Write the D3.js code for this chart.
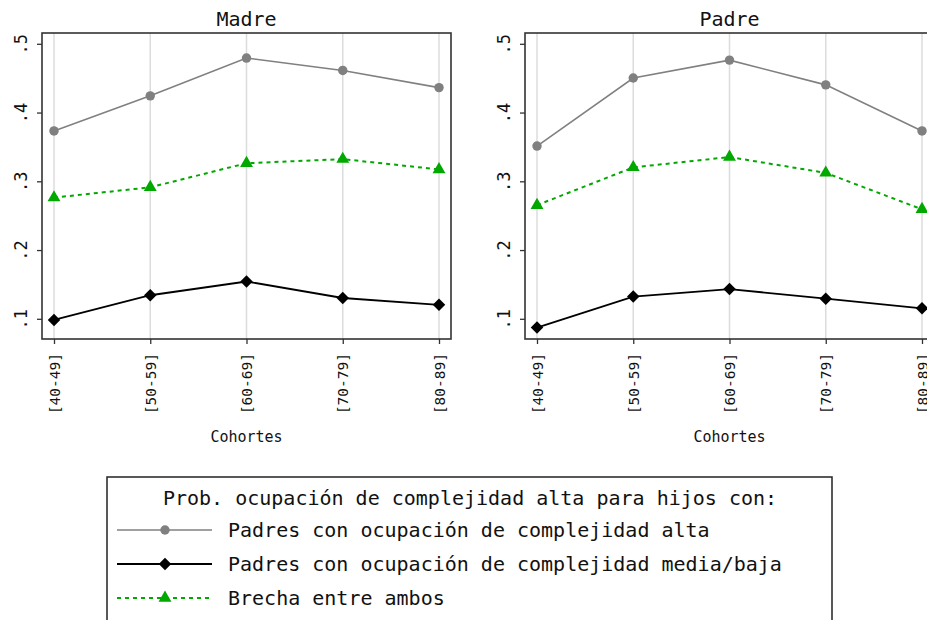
<!DOCTYPE html>
<html>
<head>
<meta charset="utf-8">
<title>Prob. ocupación de complejidad alta</title>
<script src="https://cdn.jsdelivr.net/npm/d3@7"></script>
<style>
  body { margin: 0; background: #fff; }
  text { font-family: "DejaVu Sans Mono", "Liberation Mono", monospace; fill: #111; }
  .frame { fill: none; stroke: #333; stroke-width: 1.6; }
  .grid line { stroke: #dcdcdc; stroke-width: 1.5; }
  .axis path { display: none; }
  .axis line { stroke: #333; stroke-width: 1.3; }
</style>
</head>
<body>
<svg id="chart" width="927" height="620"></svg>
<script>
  // data
  var cohorts = ["[40-49]", "[50-59]", "[60-69]", "[70-79]", "[80-89]"];
  var yTicks = [0.1, 0.2, 0.3, 0.4, 0.5];

  var madreAlta  = [0.374, 0.425, 0.480, 0.462, 0.437];
  var madreBaja  = [0.099, 0.135, 0.155, 0.131, 0.121];
  var madreGap   = [0.277, 0.292, 0.327, 0.333, 0.318];

  var padreAlta  = [0.352, 0.451, 0.477, 0.441, 0.374];
  var padreBaja  = [0.088, 0.133, 0.144, 0.130, 0.116];
  var padreGap   = [0.266, 0.321, 0.336, 0.313, 0.260];

  var legendTitle = "Prob. ocupación de complejidad alta para hijos con:";
  var seriesNames = [
    "Padres con ocupación de complejidad alta",
    "Padres con ocupación de complejidad media/baja",
    "Brecha entre ambos"
  ];

  // diamond = square turned 45 degrees
  var styles = [
    {color: "#808080", width: 1.6, dash: null, marker: d3.symbolCircle, size: 70, rot: 0},
    {color: "#000000", width: 1.8, dash: null, marker: d3.symbolSquare, size: 78, rot: 45},
    {color: "#00a800", width: 2, dash: "4,4", marker: d3.symbolTriangle, size: 72, rot: 0}
  ];

  var panels = [
    {title: "Madre", left: 42, series: [madreAlta, madreBaja, madreGap]},
    {title: "Padre", left: 525, series: [padreAlta, padreBaja, padreGap]}
  ];

  var svg = d3.select("#chart");
  var plotTop = 33, plotBottom = 339, plotW = 409;

  var y = d3.scaleLinear().domain([0.1, 0.5]).range([319.3, 44.3]);

  panels.forEach(function(p) {
    var x = d3.scalePoint().domain(cohorts).range([12, plotW - 12]);
    var g = svg.append("g").attr("transform", "translate(" + p.left + ",0)");

    // vertical grid
    g.append("g").attr("class", "grid")
      .selectAll("line").data(cohorts).enter().append("line")
        .attr("x1", function(d) { return x(d); })
        .attr("x2", function(d) { return x(d); })
        .attr("y1", plotTop).attr("y2", plotBottom);

    // y axis, labels turned
    var ya = g.append("g").attr("class", "axis")
      .call(d3.axisLeft(y).tickValues(yTicks).tickSize(5).tickPadding(0)
        .tickFormat(function(d) { return String(d).replace(/^0/, ""); }));
    ya.selectAll(".tick").attr("transform", null);
    ya.selectAll(".tick line")
      .attr("y1", function(d) { return y(d); })
      .attr("y2", function(d) { return y(d); });
    ya.selectAll("text")
      .attr("x", 0).attr("y", 0).attr("dy", null)
      .attr("text-anchor", "middle")
      .style("font-size", "17px")
      .attr("transform", function(d) { return "translate(-15," + y(d) + ") rotate(-90)"; });

    // x axis
    var xa = g.append("g").attr("class", "axis")
      .attr("transform", "translate(0," + plotBottom + ")")
      .call(d3.axisBottom(x).tickSize(5).tickPadding(0));
    xa.selectAll("text")
      .attr("y", 0).attr("dy", null)
      .attr("text-anchor", "end")
      .style("font-size", "14.5px")
      .attr("transform", "translate(5,14) rotate(-90)");

    // frame
    g.append("rect").attr("class", "frame")
      .attr("x", 0).attr("y", plotTop).attr("width", plotW).attr("height", plotBottom - plotTop);

    // titles
    g.append("text").attr("x", plotW / 2).attr("y", 26)
      .attr("text-anchor", "middle").style("font-size", "20px").text(p.title);
    g.append("text").attr("x", x(cohorts[2])).attr("y", 442)
      .attr("text-anchor", "middle").style("font-size", "15px").text("Cohortes");

    // series
    var line = d3.line()
      .x(function(d, i) { return x(cohorts[i]); })
      .y(function(d) { return y(d); });
    p.series.forEach(function(vals, k) {
      var s = styles[k];
      g.append("path").datum(vals)
        .attr("d", line)
        .attr("fill", "none")
        .attr("stroke", s.color)
        .attr("stroke-width", s.width)
        .attr("stroke-dasharray", s.dash);
      g.selectAll(null).data(vals).enter().append("path")
        .attr("d", d3.symbol().type(s.marker).size(s.size))
        .attr("transform", function(d, i) {
          return "translate(" + x(cohorts[i]) + "," + y(d) + ") rotate(" + s.rot + ")";
        })
        .attr("fill", s.color);
    });
  });

  // legend
  var lg = svg.append("g");
  lg.append("rect").attr("x", 107).attr("y", 477).attr("width", 725).attr("height", 160)
    .attr("fill", "#fff").attr("stroke", "#222").attr("stroke-width", 1.5);
  lg.append("text").attr("x", 470).attr("y", 505).attr("text-anchor", "middle")
    .style("font-size", "20px").text(legendTitle);

  var rowY = [530, 564, 598];
  seriesNames.forEach(function(name, k) {
    var s = styles[k];
    lg.append("line").attr("x1", 117).attr("x2", 212).attr("y1", rowY[k]).attr("y2", rowY[k])
      .attr("stroke", s.color).attr("stroke-width", s.width).attr("stroke-dasharray", s.dash);
    lg.append("path").attr("d", d3.symbol().type(s.marker).size(s.size))
      .attr("transform", "translate(165," + rowY[k] + ") rotate(" + s.rot + ")")
      .attr("fill", s.color);
    lg.append("text").attr("x", 228).attr("y", rowY[k] + 7)
      .style("font-size", "20px").text(name);
  });
</script>
</body>
</html>
